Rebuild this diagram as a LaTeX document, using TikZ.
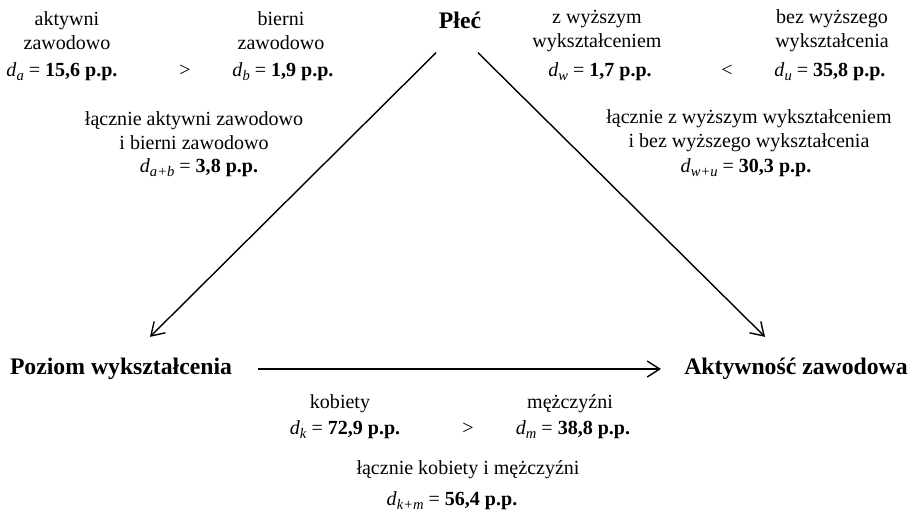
\documentclass[tikz,border=0pt]{standalone}
\usepackage{fontspec}
\setmainfont{Liberation Serif}
\usepackage{tikz}
\usetikzlibrary{arrows.meta}

\newcommand{\dsub}[1]{\textit{d}\raisebox{-0.45ex}{\fontsize{8.3}{9}\selectfont\textit{#1}}}

\begin{document}
\begin{tikzpicture}[
    x=0.02cm, y=-0.02cm,
    var/.style={inner sep=0pt, font=\bfseries\fontsize{13.5}{16}\selectfont},
    lbl/.style={inner sep=0pt, align=center, font=\fontsize{11.4}{13.6}\selectfont},
    val/.style={inner sep=0pt, font=\fontsize{11.4}{14}\selectfont},
    arrow/.style={-{Straight Barb[length=2.5mm, width=3.2mm]}, line width=0.8pt}
]
\useasboundingbox (0,0) rectangle (914,515);

% zmienne
\node[var] (plec) at (460,20) {Płeć};
\node[var] (poziom) at (121,369) {Poziom wykształcenia};
\node[var] (aktyw) at (796,369) {Aktywność zawodowa};

% aktywni / bierni
\node[lbl] (akt) at (67,31) {aktywni\\zawodowo};
\node[val] (da) at (62,72) {\dsub{a} = \textbf{15,6 p.p.}};
\node[val] (gt1) at (185,71) {>};
\node[lbl] (bie) at (281,31) {bierni\\zawodowo};
\node[val] (db) at (283,72) {\dsub{b} = \textbf{1,9 p.p.}};
\node[lbl] (lab) at (194,131) {łącznie aktywni zawodowo\\i bierni zawodowo};
\node[val] (dab) at (199,168) {\dsub{a+b} = \textbf{3,8 p.p.}};

% z wyższym / bez wyższego
\node[lbl] (wyz) at (597,31) {z wyższym\\wykształceniem};
\node[val] (dw) at (600,72) {\dsub{w} = \textbf{1,7 p.p.}};
\node[val] (lt) at (727,71) {<};
\node[lbl] (bez) at (832,31) {bez wyższego\\wykształcenia};
\node[val] (du) at (830,72) {\dsub{u} = \textbf{35,8 p.p.}};
\node[lbl] (lwu) at (749,131) {łącznie z wyższym wykształceniem\\i bez wyższego wykształcenia};
\node[val] (dwu) at (746,168) {\dsub{w+u} = \textbf{30,3 p.p.}};

% kobiety / mężczyźni
\node[lbl] (kob) at (340,404) {kobiety};
\node[val] (dk) at (345,430) {\dsub{k} = \textbf{72,9 p.p.}};
\node[val] (gt2) at (468,429) {>};
\node[lbl] (mez) at (570,404) {mężczyźni};
\node[val] (dm) at (573,430) {\dsub{m} = \textbf{38,8 p.p.}};
\node[lbl] (lkm) at (468,470) {łącznie kobiety i mężczyźni};
\node[val] (dkm) at (452,501) {\dsub{k+m} = \textbf{56,4 p.p.}};

% strzałki
\draw[arrow] ([xshift=-0.48cm, yshift=-0.48cm]plec.south) -- ([xshift=0.58cm, yshift=0.42cm]poziom.north);
\draw[arrow] ([xshift=0.36cm, yshift=-0.48cm]plec.south) -- ([xshift=-0.62cm, yshift=0.42cm]aktyw.north);
\draw[arrow] ([xshift=0.52cm]poziom.east) -- ([xshift=-0.46cm]aktyw.west);
\end{tikzpicture}
\end{document}
